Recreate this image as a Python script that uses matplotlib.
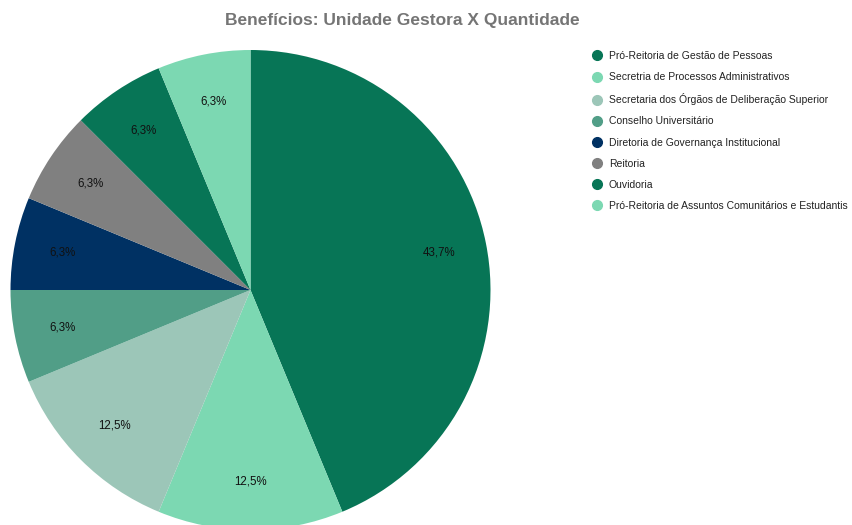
import matplotlib
matplotlib.use('Agg')
import matplotlib.pyplot as plt
from matplotlib.lines import Line2D

plt.rcParams['font.family'] = ['Liberation Sans', 'DejaVu Sans']

# dados
unidades = ['Pró-Reitoria de Gestão de Pessoas',
            'Secretria de Processos Administrativos',
            'Secretaria dos Órgãos de Deliberação Superior',
            'Conselho Universitário',
            'Diretoria de Governança Institucional',
            'Reitoria',
            'Ouvidoria',
            'Pró-Reitoria de Assuntos Comunitários e Estudantis']
quantidade = [7, 2, 2, 1, 1, 1, 1, 1]
rotulos = ['43,7%', '12,5%', '12,5%', '6,3%', '6,3%', '6,3%', '6,3%', '6,3%']
cores = ['#077556', '#7cd8b2', '#9cc6b8', '#519e87', '#003163', '#808080', '#077556', '#7cd8b2']

fig = plt.figure(figsize=(8.52, 5.25), dpi=100)
ax = fig.add_axes([10.5/852, -5/525, 480/852, 480/525])

wedges, textos = ax.pie(quantidade, colors=cores, startangle=90, counterclock=False,
                        labels=rotulos, labeldistance=0.8,
                        wedgeprops=dict(linewidth=0),
                        textprops=dict(fontsize=8.3, color='#111111', ha='center', va='center'))
ax.set_xlim(-1, 1)
ax.set_ylim(-1, 1)
ax.set_aspect('equal')

fig.suptitle('Benefícios: Unidade Gestora X Quantidade', x=402/852, y=1 - 20/525,
             va='center', fontsize=12.5, fontweight='bold', color='#757575')

handles = [Line2D([], [], marker='o', linestyle='', markersize=7, color=c) for c in cores]
fig.legend(handles, unidades, loc='upper left', bbox_to_anchor=(593/852, 1 - 51/525),
           frameon=False, fontsize=7.5, handlelength=0.8, handletextpad=0.7,
           labelspacing=1.07, borderpad=0, borderaxespad=0, labelcolor='#222222')

fig.savefig('out.png', dpi=100)
